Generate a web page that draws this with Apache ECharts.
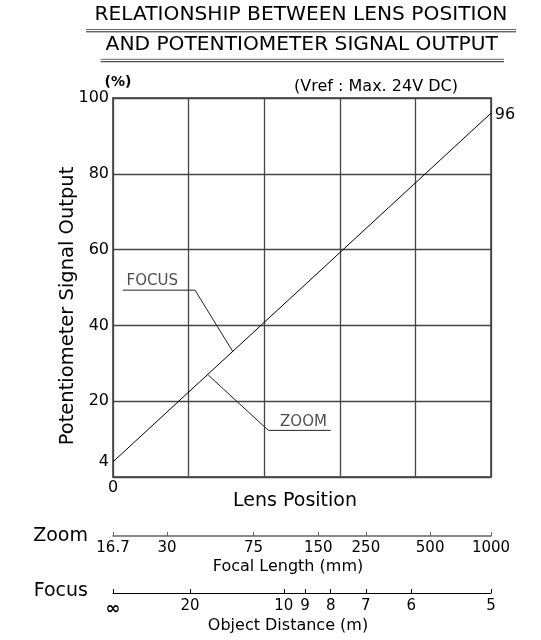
<!DOCTYPE html>
<html>
<head>
<meta charset="utf-8">
<script src="https://cdn.jsdelivr.net/npm/echarts@6/dist/echarts.min.js"></script>
<style>
html,body{margin:0;padding:0;background:#fff;}
#chart{width:541px;height:640px;}
</style>
</head>
<body>
<div id="chart"></div>
<script>
// ---- data ----
const lensPosition = [0, 100];
const signalOutput = [4, 96];
const yTickValues = [4, 20, 40, 60, 80, 100];
const xTickValues = [0];
const zoomFocalLabels = ['16.7', '30', '75', '150', '250', '500', '1000'];
const zoomFocalPositions = [0, 14.3, 37.2, 54.3, 66.9, 83.9, 100];
const focusDistanceLabels = ['\u221E', '20', '10', '9', '8', '7', '6', '5'];
const focusDistancePositions = [0, 20.4, 45.2, 50.8, 57.6, 66.9, 78.9, 100];
const focusLeaderX = [2.6, 21.7, 31.7];
const focusLeaderY = [49.3, 49.3, 33.1];
const zoomLeaderX = [57.6, 41.1, 25.2];
const zoomLeaderY = [12.3, 12.3, 26.9];
const annotationTexts = ['FOCUS', 'ZOOM'];
const annotationX = [3.6, 44.2];
const annotationY = [51.8, 14.6];

const FONT = 'DejaVu Sans';
const zip = (a, b) => a.map((v, i) => [v, b[i]]);
const labelFor = (positions, labels) => (v) => {
  const i = positions.findIndex(p => Math.abs(p - v) < 1e-6);
  if (i < 0) return '';
  return labels[i] === '\u221E' ? '{inf|\u221E}' : labels[i];
};

const chart = echarts.init(document.getElementById('chart'), null, {renderer: 'canvas'});

const txt = (text, x, y, size, opts) => Object.assign({
  type: 'text', x: x, y: y,
  style: Object.assign({text: text, fontFamily: FONT, fontSize: size, fill: '#000',
    textAlign: 'center', textVerticalAlign: 'middle'}, (opts && opts.style) || {})
}, opts && opts.rotation ? {rotation: opts.rotation} : {});
const hline = (x1, x2, y, color, w) => ({
  type: 'line', shape: {x1: x1, y1: y, x2: x2, y2: y},
  style: {stroke: color, lineWidth: w}
});

chart.setOption({
  animation: false,
  backgroundColor: '#fff',
  grid: [
    {left: 113, top: 98, width: 378, height: 379, show: true, borderColor: '#666', borderWidth: 2, backgroundColor: 'transparent'},
    {left: 113, top: 530, width: 378, height: 6},
    {left: 113, top: 587, width: 378, height: 6}
  ],
  xAxis: [
    {type: 'value', gridIndex: 0, min: 0, max: 100, interval: 20,
     axisLine: {show: false}, axisTick: {show: false},
     splitLine: {show: true, lineStyle: {color: '#444', width: 1.3}},
     axisLabel: {customValues: xTickValues, fontFamily: FONT, fontSize: 16, color: '#000', margin: 3}},
    {type: 'value', gridIndex: 1, min: 0, max: 100, position: 'bottom',
     axisLine: {show: true, lineStyle: {color: '#666', width: 1.5}},
     axisTick: {show: true, inside: true, length: 4, customValues: zoomFocalPositions, lineStyle: {color: '#666', width: 1}},
     splitLine: {show: false},
     axisLabel: {customValues: zoomFocalPositions, formatter: labelFor(zoomFocalPositions, zoomFocalLabels),
       fontFamily: FONT, fontSize: 15, color: '#000', margin: 5}},
    {type: 'value', gridIndex: 2, min: 0, max: 100, position: 'bottom',
     axisLine: {show: true, lineStyle: {color: '#000', width: 1}},
     axisTick: {show: true, inside: true, length: 4, customValues: focusDistancePositions, lineStyle: {color: '#000', width: 1}},
     splitLine: {show: false},
     axisLabel: {customValues: focusDistancePositions, formatter: labelFor(focusDistancePositions, focusDistanceLabels),
       fontFamily: FONT, fontSize: 15, color: '#000', margin: 6,
       rich: {inf: {fontFamily: FONT, fontSize: 18, fontWeight: 'bold', color: '#000', lineHeight: 20}}}}
  ],
  yAxis: [
    {type: 'value', gridIndex: 0, min: 0, max: 100, interval: 20,
     axisLine: {show: false}, axisTick: {show: false},
     splitLine: {show: true, lineStyle: {color: '#444', width: 1.3}},
     axisLabel: {customValues: yTickValues, fontFamily: FONT, fontSize: 16, color: '#000', margin: 4}},
    {type: 'value', gridIndex: 1, show: false, min: 0, max: 1},
    {type: 'value', gridIndex: 2, show: false, min: 0, max: 1}
  ],
  series: [
    {type: 'line', xAxisIndex: 0, yAxisIndex: 0, data: zip(lensPosition, signalOutput),
     showSymbol: false, symbol: 'none', lineStyle: {color: '#000', width: 1}},
    {type: 'line', xAxisIndex: 0, yAxisIndex: 0, data: zip(focusLeaderX, focusLeaderY),
     showSymbol: false, symbol: 'none', lineStyle: {color: '#222', width: 1}},
    {type: 'line', xAxisIndex: 0, yAxisIndex: 0, data: zip(zoomLeaderX, zoomLeaderY),
     showSymbol: false, symbol: 'none', lineStyle: {color: '#222', width: 1}},
    {type: 'scatter', xAxisIndex: 0, yAxisIndex: 0, symbolSize: 0,
     data: annotationTexts.map((t, i) => ({value: [annotationX[i], annotationY[i]], name: t})),
     label: {show: true, position: 'right', distance: 0, formatter: p => p.name,
       fontFamily: FONT, fontSize: 15, color: '#222'}}
  ],
  graphic: [
    txt('RELATIONSHIP BETWEEN LENS POSITION', 301, 15, 20.2),
    hline(86, 516, 29.5, '#666', 1),
    hline(86, 516, 31.8, '#222', 1),
    txt('AND POTENTIOMETER SIGNAL OUTPUT', 301.7, 45, 20.2),
    hline(100.7, 504, 59.3, '#666', 1),
    hline(100.7, 504, 61.7, '#222', 1),
    txt('(%)', 118, 82, 14, {style: {fontWeight: 'bold'}}),
    txt('(Vref : Max. 24V DC)', 376, 87, 16, {style: {}}),
    txt('96', 505, 115, 16),
    txt('Potentiometer Signal Output', 67.5, 306, 19.5, {rotation: Math.PI / 2}),
    txt('Lens Position', 295, 501, 19),
    txt('Zoom', 88, 536, 19, {style: {textAlign: 'right'}}),
    txt('Focal Length (mm)', 288, 567, 16),
    txt('Focus', 88, 591, 19, {style: {textAlign: 'right'}}),
    txt('Object Distance (m)', 288, 626, 16)
  ]
});
</script>
</body>
</html>
